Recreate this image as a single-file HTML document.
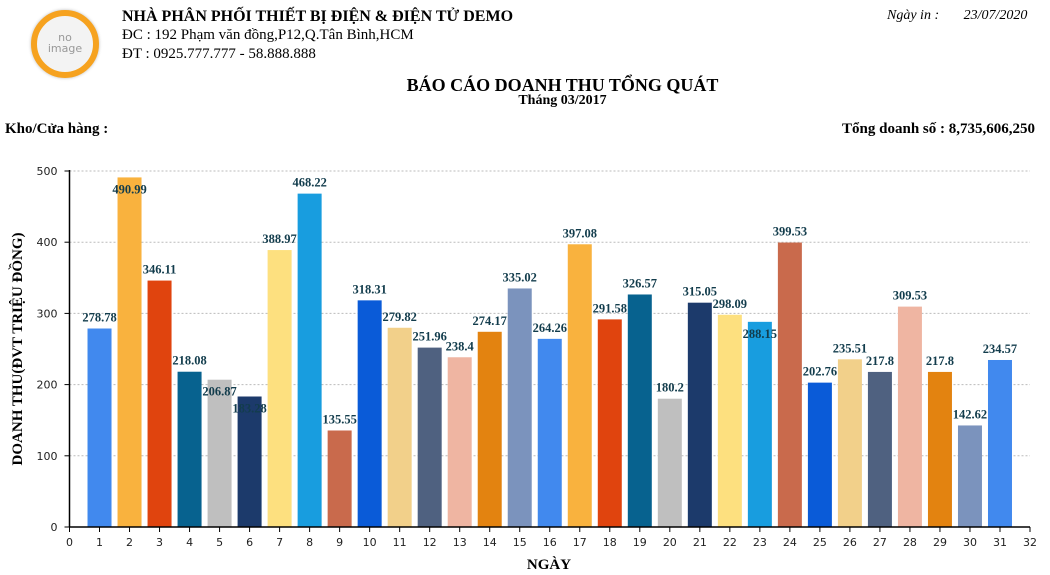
<!DOCTYPE html>
<html><head><meta charset="utf-8">
<style>
body{margin:0;width:1050px;height:575px;background:#fff;font-family:"Liberation Serif","Noto Serif CJK SC",serif;position:relative;overflow:hidden}
.t{position:absolute;white-space:nowrap;color:#000}
</style></head><body>
<div style="position:absolute;left:31px;top:10px;width:68px;height:68px;border-radius:50%;border:6px solid #f6a21f;box-sizing:border-box;background:#f3f3f3;box-shadow:0 0 3px #bbb">
<div class="t" style="left:0;right:0;top:16px;text-align:center;font:11px 'DejaVu Sans',sans-serif;color:#999;line-height:11px">no<br>image</div></div>
<div class="t" style="left:122px;top:8px;font-weight:bold;font-size:16px">NHÀ PHÂN PHỐI THIẾT BỊ ĐIỆN &amp; ĐIỆN TỬ DEMO</div>
<div class="t" style="left:122px;top:27px;font-size:15px">ĐC : 192 Phạm văn đồng,P12,Q.Tân Bình,HCM</div>
<div class="t" style="left:122px;top:46px;font-size:15px">ĐT : 0925.777.777 - 58.888.888</div>
<div class="t" style="left:887px;top:8px;font-size:14px;font-style:italic">Ngày in :&nbsp;&nbsp;&nbsp;&nbsp;&nbsp;&nbsp; 23/07/2020</div>
<div class="t" style="left:0;width:1125px;top:75px;text-align:center;font-weight:bold;font-size:18px">BÁO CÁO DOANH THU TỔNG QUÁT</div>
<div class="t" style="left:0;width:1125px;top:93px;text-align:center;font-weight:bold;font-size:14px">Tháng 03/2017</div>
<div class="t" style="left:5px;top:121px;font-weight:bold;font-size:15px">Kho/Cửa hàng :</div>
<div class="t" style="right:15px;top:121px;font-weight:bold;font-size:15px">Tổng doanh số : 8,735,606,250</div>
<svg id="chart" width="1050" height="575" style="position:absolute;left:0;top:0"></svg>
<script>
const days=[1,2,3,4,5,6,7,8,9,10,11,12,13,14,15,16,17,18,19,20,21,22,23,24,25,26,27,28,29,30,31];
const revenue=[278.78,490.99,346.11,218.08,206.87,183.28,388.97,468.22,135.55,318.31,279.82,251.96,238.4,274.17,335.02,264.26,397.08,291.58,326.57,180.2,315.05,298.09,288.15,399.53,202.76,235.51,217.8,309.53,217.8,142.62,234.57];
const yTicks=[0,100,200,300,400,500];
const xTicks=[0,1,2,3,4,5,6,7,8,9,10,11,12,13,14,15,16,17,18,19,20,21,22,23,24,25,26,27,28,29,30,31,32];
const palette=["#4189ee","#f9b23e","#e0440e","#07628f","#bfbfbf","#1c3a6b","#fde07f","#189ddf","#c96a4c","#0a5bd8","#f2d08a","#4f6180","#efb5a2","#e38310","#7b93bd"];
const NS="http://www.w3.org/2000/svg",svg=document.getElementById('chart');
const X0=69.5,X1=1030,Y0=527,Y1=171;
const xs=v=>X0+(X1-X0)*v/32, ys=v=>Y0-(Y0-Y1)*v/500;
function mk(t,a,txt){const e=document.createElementNS(NS,t);for(const k in a)e.setAttribute(k,a[k]);if(txt!==undefined)e.textContent=txt;svg.appendChild(e);return e;}
yTicks.forEach(v=>{
 if(v>0){const g=mk('line',{x1:X0,x2:X1,y1:ys(v),y2:ys(v),stroke:'#bbb','stroke-dasharray':'2,2'});
 
 }
 const t=mk('text',{x:X0-12,y:ys(v)+4,'text-anchor':'end','font-size':11,'font-family':'DejaVu Sans,sans-serif',fill:'#222'},v);
 
 
 mk('line',{x1:X0-5,x2:X0,y1:ys(v),y2:ys(v),stroke:'#000'});
});
xTicks.forEach(v=>{
 mk('line',{x1:xs(v),x2:xs(v),y1:Y0,y2:Y0+5,stroke:'#000'});
 const t=mk('text',{x:xs(v),y:Y0+19,'text-anchor':'middle','font-size':11,'font-family':'DejaVu Sans,sans-serif',fill:'#222'},v);
 
 
});
days.forEach((d,i)=>{
 const v=revenue[i],top=ys(v);
 const r=mk('rect',{x:xs(d)-12,y:top,width:24,height:Y0-top,fill:palette[i%palette.length]});
 
 
 const prev=i>0?revenue[i-1]:0;
 const diff=prev-v;
 const inside=v>480||(diff>0&&diff<12.5)||(diff>20&&diff<25);
 const ly=inside?top+16:top-7;
 const t=mk('text',{x:xs(d),y:ly,'text-anchor':'middle','font-size':12.5,'font-weight':'bold','font-family':'Liberation Serif,serif',fill:'#123c4c'},String(v));
 
 
});
mk('line',{x1:X0,x2:X0,y1:Y1-1,y2:Y0,stroke:'#000','stroke-width':1.5});
mk('line',{x1:X0,x2:X1,y1:Y0,y2:Y0,stroke:'#000','stroke-width':1.5});
const yt=mk('text',{x:0,y:0,transform:'translate(22,349) rotate(-90)','text-anchor':'middle','font-size':15,'font-weight':'bold','font-family':'Liberation Serif,serif'},'DOANH THU(ĐVT TRIỆU ĐỒNG)');


const xt=mk('text',{x:549,y:569,'text-anchor':'middle','font-size':15,'font-weight':'bold','font-family':'Liberation Serif,serif'},'NGÀY');


</script>
</body></html>
